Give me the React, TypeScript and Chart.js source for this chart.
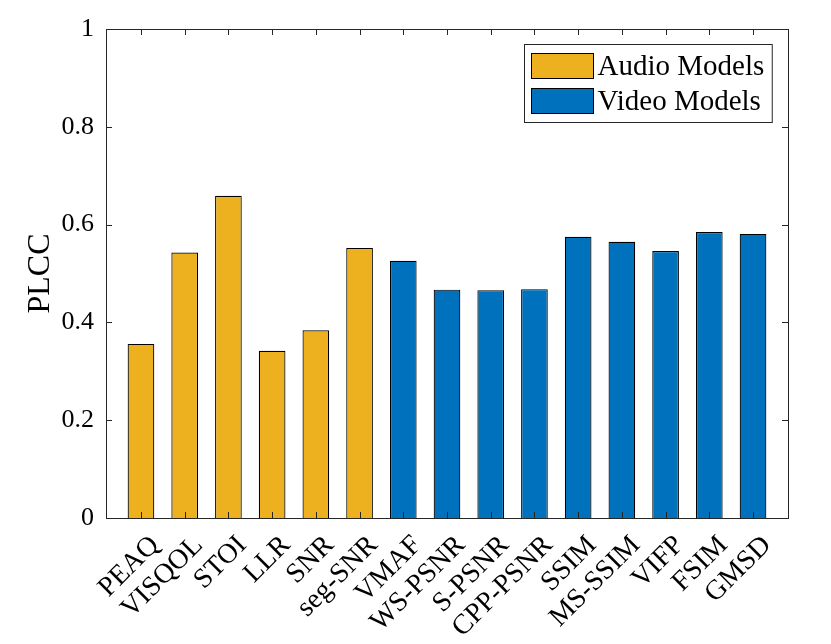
import React, { useEffect, useRef } from 'react';
import { Chart, registerables } from 'chart.js';

Chart.register(...registerables);

const audioModels = ['PEAQ', 'VISQOL', 'STOI', 'LLR', 'SNR', 'seg-SNR'];
const videoModels = ['VMAF', 'WS-PSNR', 'S-PSNR', 'CPP-PSNR', 'SSIM', 'MS-SSIM', 'VIFP', 'FSIM', 'GMSD'];
const audioPlcc = [0.356, 0.543, 0.659, 0.342, 0.384, 0.552];
const videoPlcc = [0.526, 0.467, 0.466, 0.468, 0.575, 0.565, 0.546, 0.585, 0.581];
const yTicks = [0, 0.2, 0.4, 0.6, 0.8, 1];

const allModels = [...audioModels, ...videoModels];

const AUDIO_COLOR = '#EDB120';
const VIDEO_COLOR = '#0072BD';
const AXIS_COLOR = '#262626';
const FONT = '"Liberation Serif", "Times New Roman", serif';

// MATLAB-like box: inward ticks on all four sides, plus a boxed legend in the top-right
const matlabAxes = {
  id: 'matlabAxes',
  afterDatasetsDraw(chart: any) {
    const { ctx, chartArea, scales } = chart;
    const { left, right, top, bottom } = chartArea;
    const tl = 6;
    ctx.save();
    ctx.strokeStyle = AXIS_COLOR;
    ctx.lineWidth = 1;
    ctx.beginPath();
    scales.x.ticks.forEach((t: any) => {
      const px = Math.round(scales.x.getPixelForValue(t.value)) + 0.5;
      ctx.moveTo(px, bottom);
      ctx.lineTo(px, bottom - tl);
      ctx.moveTo(px, top);
      ctx.lineTo(px, top + tl);
    });
    scales.y.ticks.forEach((t: any) => {
      const py = Math.round(scales.y.getPixelForValue(t.value)) + 0.5;
      ctx.moveTo(left, py);
      ctx.lineTo(left + tl, py);
      ctx.moveTo(right, py);
      ctx.lineTo(right - tl, py);
    });
    ctx.stroke();
    ctx.strokeRect(Math.round(left) + 0.5, Math.round(top) + 0.5, Math.round(right - left), Math.round(bottom - top));

    // legend
    ctx.font = `29px ${FONT}`;
    const items = chart.data.datasets.map((d: any) => ({ label: d.label, color: d.backgroundColor }));
    const textW = Math.max(...items.map((it: any) => ctx.measureText(it.label).width));
    const swW = 62;
    const swH = 25;
    const rowH = 35;
    const boxW = 7 + swW + 4 + textW + 8;
    const boxH = 9 + rowH * items.length - 1;
    const bx = Math.round(right - 16 - boxW) + 0.5;
    const by = Math.round(top + 15) + 0.5;
    ctx.fillStyle = '#fff';
    ctx.fillRect(bx, by, boxW, boxH);
    ctx.strokeStyle = AXIS_COLOR;
    ctx.strokeRect(bx, by, boxW, boxH);
    items.forEach((it: any, i: number) => {
      const sy = by + 9 + i * rowH;
      ctx.fillStyle = it.color;
      ctx.fillRect(bx + 7, sy, swW, swH);
      ctx.strokeStyle = '#000';
      ctx.strokeRect(bx + 7, sy, swW, swH);
      ctx.fillStyle = '#000';
      ctx.textBaseline = 'middle';
      ctx.textAlign = 'left';
      ctx.fillText(it.label, bx + 7 + swW + 4, sy + swH / 2 + 1);
    });
    ctx.restore();
  },
};

const App: React.FC = () => {
  const chartRef = useRef<HTMLCanvasElement>(null);
  const chartInstance = useRef<Chart | null>(null);

  useEffect(() => {
    document.body.style.margin = '0';
    if (!chartRef.current) return;
    const ctx = chartRef.current.getContext('2d');
    if (!ctx) return;
    if (chartInstance.current) chartInstance.current.destroy();

    chartInstance.current = new Chart(ctx, {
      type: 'bar',
      data: {
        datasets: [
          {
            label: 'Audio Models',
            data: audioPlcc.map((v, i) => ({ x: i + 1, y: v })),
            backgroundColor: AUDIO_COLOR,
            borderColor: '#000',
            borderWidth: 1.2,
            grouped: false,
            barPercentage: 0.61,
            categoryPercentage: 1,
          },
          {
            label: 'Video Models',
            data: videoPlcc.map((v, i) => ({ x: audioModels.length + i + 1, y: v })),
            backgroundColor: VIDEO_COLOR,
            borderColor: '#000',
            borderWidth: 1.2,
            grouped: false,
            barPercentage: 0.61,
            categoryPercentage: 1,
          },
        ] as any,
      },
      options: {
        responsive: false,
        animation: false,
        layout: { padding: { top: 29, right: 43, left: 0, bottom: 0 } },
        plugins: {
          legend: { display: false },
          tooltip: { enabled: false },
        },
        scales: {
          x: {
            type: 'linear',
            offset: false,
            min: 0.2,
            max: 15.8,
            grid: { display: false, drawTicks: false, offset: false },
            border: { display: false },
            afterBuildTicks: (scale: any) => {
              scale.ticks = allModels.map((_, i) => ({ value: i + 1 }));
            },
            afterFit: (scale: any) => {
              scale.height = 126;
            },
            ticks: {
              autoSkip: false,
              maxRotation: 45,
              minRotation: 45,
              padding: 11,
              labelOffset: 14,
              color: '#000',
              font: { family: FONT, size: 28 },
              callback: (v: any) => allModels[Math.round(Number(v)) - 1] ?? '',
            },
          },
          y: {
            min: 0,
            max: 1,
            grid: { display: false, drawTicks: false },
            border: { display: false },
            afterBuildTicks: (scale: any) => {
              scale.ticks = yTicks.map((v) => ({ value: v }));
            },
            afterFit: (scale: any) => {
              scale.width = 106;
            },
            ticks: {
              padding: 12,
              color: '#000',
              font: { family: FONT, size: 26 },
              callback: (v: any) => String(Number(v)),
            },
            title: {
              display: true,
              text: 'PLCC',
              color: '#000',
              font: { family: FONT, size: 32 },
              padding: { top: 21, bottom: 0 },
            },
          },
        },
      },
      plugins: [matlabAxes],
    });

    return () => {
      if (chartInstance.current) {
        chartInstance.current.destroy();
        chartInstance.current = null;
      }
    };
  }, []);

  return (
    <div style={{ width: 831, height: 644, background: '#fff' }}>
      <canvas ref={chartRef} width={831} height={644} style={{ width: 831, height: 644 }} />
    </div>
  );
};

export default App;
